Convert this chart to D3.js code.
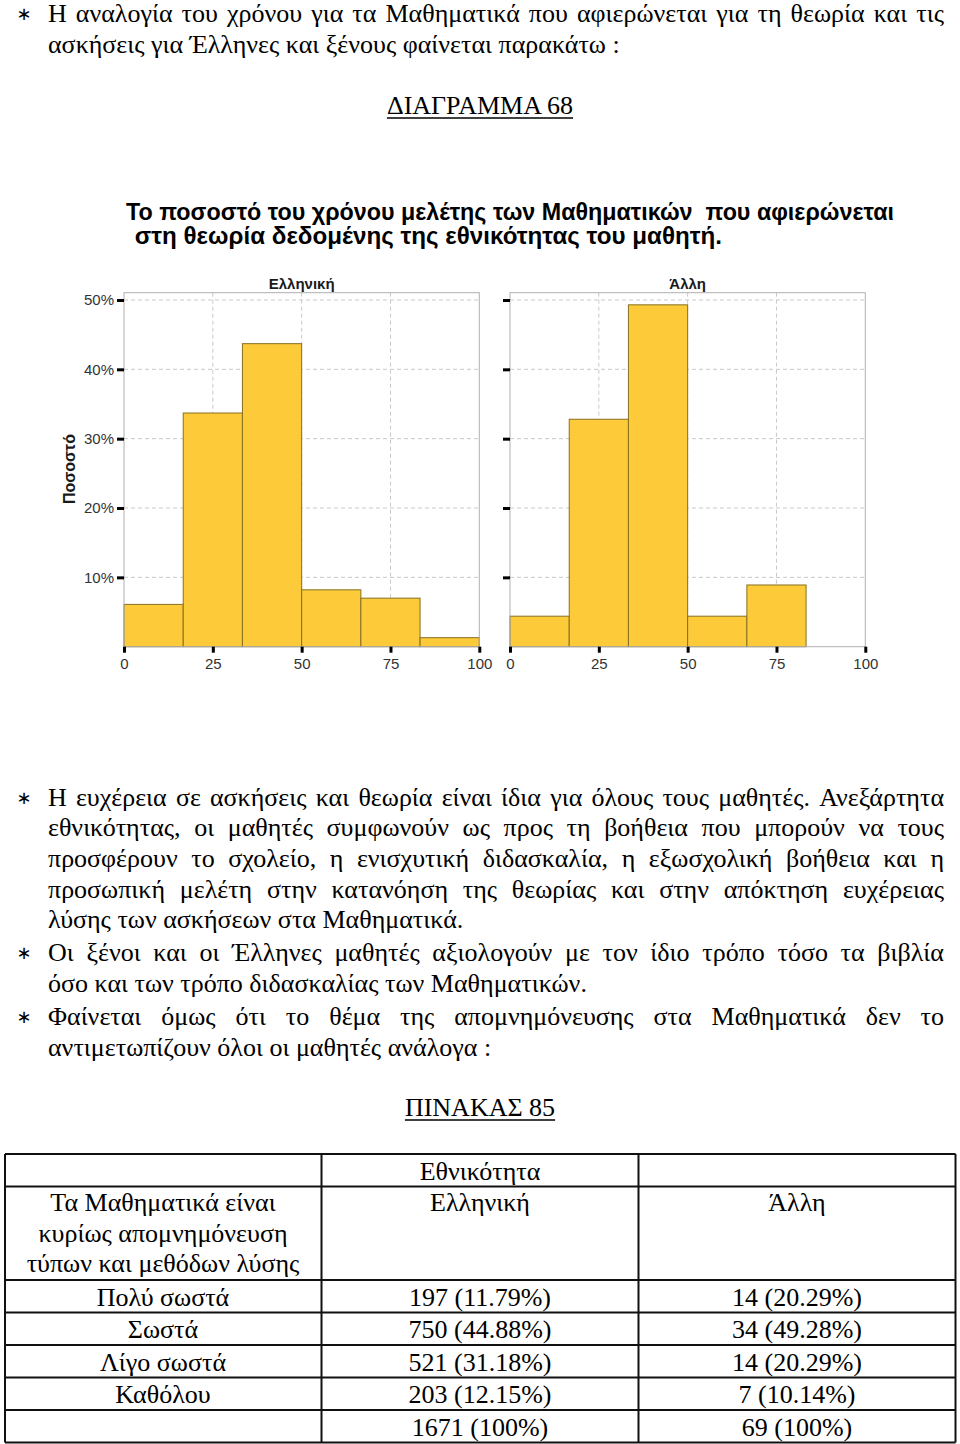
<!DOCTYPE html>
<html>
<head>
<meta charset="utf-8">
<script src="https://cdn.jsdelivr.net/npm/d3@7/dist/d3.min.js"></script>
<style>
  html, body { margin: 0; padding: 0; background: #fff; }
  svg { display: block; }
  .serif { font-family: "Liberation Serif", "Times New Roman", serif; fill: #000; }
  .sans { font-family: "Liberation Sans", Arial, Helvetica, sans-serif; }
</style>
</head>
<body>
<svg id="page" width="960" height="1444"></svg>
<script>
// ---------------- DATA ----------------
const binEdges = [0, 16.67, 33.33, 50, 66.67, 83.33, 100];
const panelNames = ["Ελληνική", "Άλλη"];
const greekShare = [6.1, 33.7, 43.7, 8.2, 7.0, 1.3];
const otherShare = [4.4, 32.8, 49.3, 4.4, 8.9, 0];
const yTickValues = [10, 20, 30, 40, 50];
const xTickValues = [0, 25, 50, 75, 100];

const chartTitle = ["Το ποσοστό του χρόνου μελέτης των Μαθηματικών  που αφιερώνεται",
                    " στη θεωρία δεδομένης της εθνικότητας του μαθητή."];
const yAxisTitle = "Ποσοστό";

const tableHeaderTop = "Εθνικότητα";
const tableCorner = ["Τα Μαθηματικά είναι", "κυρίως απομνημόνευση", "τύπων και μεθόδων λύσης"];
const tableColumns = ["Ελληνική", "Άλλη"];
const tableRowLabels = ["Πολύ σωστά", "Σωστά", "Λίγο σωστά", "Καθόλου", ""];
const greekCounts = [197, 750, 521, 203, 1671];
const greekPcts = ["11.79%", "44.88%", "31.18%", "12.15%", "100%"];
const otherCounts = [14, 34, 14, 7, 69];
const otherPcts = ["20.29%", "49.28%", "20.29%", "10.14%", "100%"];

const introLines = [
  {t: "Η αναλογία του χρόνου για τα Μαθηματικά που αφιερώνεται για τη θεωρία και τις", j: true, star: true},
  {t: "ασκήσεις για Έλληνες και ξένους φαίνεται παρακάτω :", j: false}
];
const bodyLines = [
  {t: "Η ευχέρεια σε ασκήσεις και θεωρία είναι ίδια για όλους τους μαθητές. Ανεξάρτητα", j: true, star: true},
  {t: "εθνικότητας, οι μαθητές συμφωνούν ως προς τη βοήθεια που μπορούν να τους", j: true},
  {t: "προσφέρουν το σχολείο, η ενισχυτική διδασκαλία, η εξωσχολική βοήθεια και η", j: true},
  {t: "προσωπική μελέτη στην κατανόηση της θεωρίας και στην απόκτηση ευχέρειας", j: true},
  {t: "λύσης των ασκήσεων στα Μαθηματικά.", j: false},
  {t: "Οι ξένοι και οι Έλληνες μαθητές αξιολογούν με τον ίδιο τρόπο τόσο τα βιβλία", j: true, star: true},
  {t: "όσο και των τρόπο διδασκαλίας των Μαθηματικών.", j: false},
  {t: "Φαίνεται όμως ότι το θέμα της απομνημόνευσης στα Μαθηματικά δεν το", j: true, star: true},
  {t: "αντιμετωπίζουν όλοι οι μαθητές ανάλογα :", j: false}
];
const diagramHeading = "ΔΙΑΓΡΑΜΜΑ 68";
const tableHeading = "ΠΙΝΑΚΑΣ 85";

// ---------------- DRAWING ----------------
const svg = d3.select("#page");
const FS = 26;
const textX0 = 48, textX1 = 944;

function drawLine(g, line, y) {
  if (line.star) {
    g.append("text").attr("x", 24).attr("y", y - 2).attr("text-anchor", "middle")
      .style("font-family", "DejaVu Sans").style("font-size", "18px").attr("fill", "#000")
      .text("∗");
  }
  if (!line.j) {
    g.append("text").attr("class", "serif").attr("x", textX0).attr("y", y)
      .style("font-size", FS + "px").text(line.t);
    return;
  }
  const words = line.t.split(" ");
  const nodes = words.map(w => g.append("text").attr("class", "serif").attr("y", y)
      .style("font-size", FS + "px").text(w));
  const widths = nodes.map(n => n.node().getComputedTextLength());
  const total = d3.sum(widths);
  const gap = Math.max(3, (textX1 - textX0 - total) / (words.length - 1));
  let x = textX0;
  nodes.forEach((n, i) => { n.attr("x", x); x += widths[i] + gap; });
}

const tg = svg.append("g");
introLines.forEach((l, i) => drawLine(tg, l, 22 + i * 31));
const bodyY = [806, 836, 867, 898, 928, 961, 992, 1025, 1056];
bodyLines.forEach((l, i) => drawLine(tg, l, bodyY[i]));

function heading(text, y) {
  const t = svg.append("text").attr("class", "serif").attr("x", 480).attr("y", y)
    .attr("text-anchor", "middle").style("font-size", FS + "px").text(text);
  const w = t.node().getComputedTextLength();
  svg.append("line").attr("x1", 480 - w / 2).attr("x2", 480 + w / 2)
    .attr("y1", y + 4).attr("y2", y + 4).attr("stroke", "#000").attr("stroke-width", 1.5);
}
heading(diagramHeading, 114);
heading(tableHeading, 1116);

// ---- Chart title ----
svg.append("text").attr("class", "sans").attr("x", 126).attr("y", 220)
  .style("font-size", "23px").style("font-weight", "bold").style("white-space", "pre")
  .attr("textLength", 768).attr("lengthAdjust", "spacingAndGlyphs").attr("fill", "#000")
  .text(chartTitle[0]);
svg.append("text").attr("class", "sans").attr("x", 128).attr("y", 244)
  .style("font-size", "23px").style("font-weight", "bold").style("white-space", "pre")
  .attr("textLength", 594).attr("lengthAdjust", "spacingAndGlyphs").attr("fill", "#000")
  .text(chartTitle[1]);

// ---- Histogram panels ----
const panelTop = 292.7, panelBottom = 646.7;
const y = d3.scaleLinear().domain([0, 51.05]).range([panelBottom, panelTop]);
const panelRanges = [[124, 479.3], [510, 865.3]];
const series = [greekShare, otherShare];

panelNames.forEach((name, p) => {
  const x = d3.scaleLinear().domain([0, 100]).range(panelRanges[p]);
  const g = svg.append("g");
  const [xl, xr] = panelRanges[p];

  // grid
  g.selectAll(".hg").data(yTickValues).join("line")
    .attr("x1", xl).attr("x2", xr).attr("y1", d => y(d)).attr("y2", d => y(d))
    .attr("stroke", "#c9c9c9").attr("stroke-width", 1).attr("stroke-dasharray", "4,3");
  g.selectAll(".vg").data([25, 50, 75]).join("line")
    .attr("x1", d => x(d)).attr("x2", d => x(d)).attr("y1", panelTop).attr("y2", panelBottom)
    .attr("stroke", "#c9c9c9").attr("stroke-width", 1).attr("stroke-dasharray", "4,3");

  // bars
  const bins = series[p].map((v, i) => ({x0: binEdges[i], x1: binEdges[i + 1], v}));
  g.selectAll("rect.bar").data(bins.filter(b => b.v > 0)).join("rect")
    .attr("x", d => x(d.x0)).attr("width", d => x(d.x1) - x(d.x0))
    .attr("y", d => y(d.v)).attr("height", d => y(0) - y(d.v))
    .attr("fill", "#fdca3a").attr("stroke", "#86701f").attr("stroke-width", 1);

  // border
  g.append("rect").attr("x", xl).attr("y", panelTop).attr("width", xr - xl)
    .attr("height", panelBottom - panelTop).attr("fill", "none")
    .attr("stroke", "#b0b0b0").attr("stroke-width", 1);

  // strip title
  g.append("text").attr("class", "sans").attr("x", (xl + xr) / 2).attr("y", 288.5)
    .attr("text-anchor", "middle").style("font-size", "15px").style("font-weight", "bold")
    .attr("fill", "#1a1a1a").text(name);

  // y axis
  const ya = g.append("g").attr("transform", `translate(${xl},0)`)
    .call(d3.axisLeft(y).tickValues(yTickValues).tickSize(7).tickPadding(3)
      .tickFormat(p === 0 ? (d => d + "%") : () => ""));
  ya.select(".domain").remove();
  ya.selectAll(".tick line").attr("stroke", "#000").attr("stroke-width", 3);
  ya.selectAll(".tick text").attr("class", "sans").style("font-size", "15px").attr("fill", "#333");

  // x axis
  const xa = g.append("g").attr("transform", `translate(0,${panelBottom})`)
    .call(d3.axisBottom(x).tickValues(xTickValues).tickSize(6).tickPadding(6));
  xa.select(".domain").remove();
  xa.selectAll(".tick line").attr("stroke", "#000").attr("stroke-width", 3);
  xa.selectAll(".tick text").attr("class", "sans").style("font-size", "15px").attr("fill", "#333");
});

svg.append("text").attr("class", "sans")
  .attr("transform", `translate(75,469) rotate(-90)`).attr("text-anchor", "middle")
  .style("font-size", "16px").style("font-weight", "bold").attr("fill", "#1a1a1a")
  .text(yAxisTitle);

// ---- Table ----
const colX = [5, 321.5, 638.5, 955.5];
const rowY = [1154, 1186.5, 1280, 1312.5, 1345, 1377.5, 1410, 1442.5];
const tbl = svg.append("g");
const cellText = (x, yy, t) => tbl.append("text").attr("class", "serif").attr("x", x).attr("y", yy)
  .attr("text-anchor", "middle").style("font-size", FS + "px").text(t);
const colC = [163, 480, 797];

cellText(colC[1], 1180, tableHeaderTop);
tableCorner.forEach((t, i) => cellText(colC[0], 1211 + i * 30.5, t));
tableColumns.forEach((t, i) => cellText(colC[i + 1], 1211, t));
tableRowLabels.forEach((lab, i) => {
  const yy = rowY[i + 2] + 25.5;
  if (lab) cellText(colC[0], yy, lab);
  cellText(colC[1], yy, `${greekCounts[i]} (${greekPcts[i]})`);
  cellText(colC[2], yy, `${otherCounts[i]} (${otherPcts[i]})`);
});

tbl.selectAll("line.h").data(rowY).join("line")
  .attr("x1", colX[0]).attr("x2", colX[3]).attr("y1", d => d).attr("y2", d => d)
  .attr("stroke", "#111").attr("stroke-width", 2);
tbl.selectAll("line.v").data(colX).join("line")
  .attr("x1", d => d).attr("x2", d => d).attr("y1", rowY[0]).attr("y2", rowY[rowY.length - 1])
  .attr("stroke", "#111").attr("stroke-width", 2);
</script>
</body>
</html>
